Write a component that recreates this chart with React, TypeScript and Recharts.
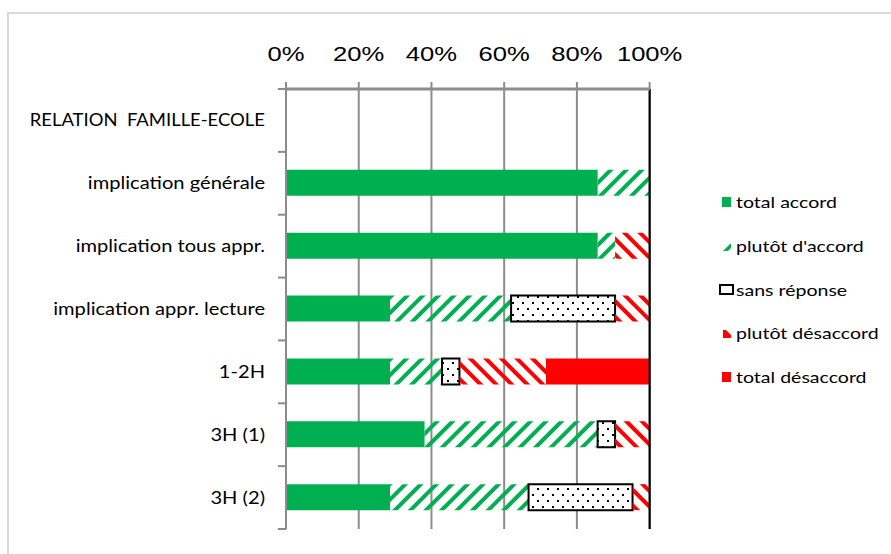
import { BarChart, Bar, XAxis, YAxis, CartesianGrid, ReferenceLine } from 'recharts'

const categories = [
  'RELATION  FAMILLE-ECOLE',
  'implication générale',
  'implication tous appr.',
  'implication appr. lecture',
  '1-2H',
  '3H (1)',
  '3H (2)',
]
const totalAccord = [0, 85.7, 85.7, 28.6, 28.6, 38.1, 28.6]
const plutotAccord = [0, 14.3, 4.8, 33.3, 14.3, 47.6, 38.1]
const sansReponse = [0, 0, 0, 28.6, 4.8, 4.8, 28.6]
const plutotDesaccord = [0, 0, 9.5, 9.5, 23.8, 9.5, 4.8]
const totalDesaccord = [0, 0, 0, 0, 28.6, 0, 0]
const xTicks = [0, 20, 40, 60, 80, 100]

const data = categories.map((name, i) => ({
  name,
  totalAccord: totalAccord[i],
  plutotAccord: plutotAccord[i],
  sansReponse: sansReponse[i],
  plutotDesaccord: plutotDesaccord[i],
  totalDesaccord: totalDesaccord[i],
}))

const GREEN = '#00b050'
const RED = '#ff0000'
const GRID = '#8c8c8c'

const W = 891
const H = 554
const TOP = 89
const BOTTOM = 529
const LEFT = 286
const RIGHT = 650
const BAND = (BOTTOM - TOP) / categories.length
// the reference is stretched sideways, so text is widened a little
const STRETCH = 1.22

const XTick = (props: any) => {
  const { x, payload } = props
  return (
    <text
      transform={`translate(${x},61) scale(${STRETCH},1)`}
      textAnchor="middle"
      fontFamily="Liberation Sans, Arial, sans-serif"
      fontSize={21}
      fill="#000"
    >
      {payload.value}%
    </text>
  )
}

const YTick = (props: any) => {
  const { y, payload, index } = props
  const top = y - BAND / 2
  const label = String(payload.value)
  // Lato capitals run wider than the original font
  const sx = label === label.toUpperCase() && /[A-Z]{3}/.test(label) ? 1.12 : STRETCH
  return (
    <g>
      <line x1={LEFT - 8} x2={LEFT} y1={top} y2={top} stroke={GRID} strokeWidth={2} />
      {index === categories.length - 1 && (
        <line x1={LEFT - 8} x2={LEFT} y1={top + BAND} y2={top + BAND} stroke={GRID} strokeWidth={2} />
      )}
      <text
        transform={`translate(265,${y + 6}) scale(${sx},1)`}
        textAnchor="end"
        fontFamily="Lato, sans-serif"
        fontSize={16.5}
        fill="#000"
        style={{ whiteSpace: 'pre' }}
      >
        {label}
      </text>
    </g>
  )
}

const legendItems = [
  { key: 'total accord', icon: 'solid-green' },
  { key: "plutôt d'accord", icon: 'stripe-green' },
  { key: 'sans réponse', icon: 'box' },
  { key: 'plutôt désaccord', icon: 'stripe-red' },
  { key: 'total désaccord', icon: 'solid-red' },
]

const LegendIcon = ({ icon }: { icon: string }) => (
  <svg width={15} height={12} style={{ marginRight: 2 }}>
    {icon === 'solid-green' && <rect x={3} y={1} width={9} height={10} fill={GREEN} />}
    {icon === 'solid-red' && <rect x={3} y={1} width={9} height={10} fill={RED} />}
    {icon === 'stripe-green' && <polygon points="4,11 11,4 12,4 12,8 9,11" fill={GREEN} />}
    {icon === 'stripe-red' && <polygon points="4,3 7,3 12,8 12,11 4,11" fill={RED} />}
    {icon === 'box' && <rect x={1} y={2} width={13} height={9} fill="#fff" stroke="#000" strokeWidth={2} />}
  </svg>
)

const LegendBox = () => (
  <div
    style={{
      position: 'absolute',
      left: 719,
      top: 180,
      fontFamily: 'Lato, sans-serif',
      fontSize: 16,
      color: '#000',
    }}
  >
    {legendItems.map(item => (
      <div key={item.key} style={{ display: 'flex', alignItems: 'center', height: 43.7 }}>
        <LegendIcon icon={item.icon} />
        <span style={{ display: 'inline-block', transform: `scaleX(${STRETCH})`, transformOrigin: 'left center', whiteSpace: 'nowrap' }}>
          {item.key}
        </span>
      </div>
    ))}
  </div>
)

export default function App() {
  return (
    <div style={{ position: 'relative', width: W, height: H, background: '#fff', overflow: 'hidden' }}>
      <style>{'body{margin:0}'}</style>
      <div
        style={{
          position: 'absolute',
          left: 7,
          top: 12,
          width: W,
          height: H,
          borderTop: '2px solid #d9d9d9',
          borderLeft: '2px solid #d9d9d9',
        }}
      />
      <div style={{ position: 'absolute', left: 0, top: 0 }}>
        <BarChart
          width={W}
          height={H}
          data={data}
          layout="vertical"
          margin={{ top: 0, right: W - RIGHT, bottom: H - BOTTOM, left: 0 }}
        >
          <defs>
            <pattern id="stripeGreen" patternUnits="userSpaceOnUse" width={11} height={11} patternTransform="rotate(45)">
              <rect x={0} y={0} width={4} height={11} fill={GREEN} />
            </pattern>
            <pattern id="stripeRed" patternUnits="userSpaceOnUse" width={11} height={11} patternTransform="rotate(-45)">
              <rect x={0} y={0} width={4} height={11} fill={RED} />
            </pattern>
            <pattern id="dots" patternUnits="userSpaceOnUse" width={10} height={12}>
              <rect x={0} y={0} width={10} height={12} fill="#fff" />
              <rect x={2} y={2} width={2} height={2} fill="#000" />
              <rect x={7} y={8} width={2} height={2} fill="#000" />
            </pattern>
          </defs>
          <CartesianGrid horizontal={false} stroke={GRID} strokeWidth={2} />
          <XAxis
            type="number"
            orientation="top"
            domain={[0, 100]}
            ticks={xTicks}
            height={TOP}
            tick={<XTick />}
            tickSize={7}
            tickLine={{ stroke: GRID, strokeWidth: 2 }}
            axisLine={{ stroke: GRID, strokeWidth: 3 }}
            interval={0}
          />
          <XAxis
            xAxisId="bottom"
            type="number"
            orientation="bottom"
            domain={[0, 100]}
            height={0}
            tick={false}
            tickLine={false}
            axisLine={{ stroke: '#000', strokeWidth: 2 }}
          />
          <YAxis
            type="category"
            dataKey="name"
            width={LEFT}
            tick={<YTick />}
            tickLine={false}
            axisLine={{ stroke: GRID, strokeWidth: 2 }}
            interval={0}
          />
          <ReferenceLine x={100} stroke="#000" strokeWidth={2} />
          <Bar dataKey="totalAccord" stackId="a" fill={GREEN} barSize={26} isAnimationActive={false} />
          <Bar dataKey="plutotAccord" stackId="a" fill="url(#stripeGreen)" barSize={26} isAnimationActive={false} />
          <Bar dataKey="sansReponse" stackId="a" fill="url(#dots)" stroke="#000" strokeWidth={2} barSize={26} isAnimationActive={false} />
          <Bar dataKey="plutotDesaccord" stackId="a" fill="url(#stripeRed)" barSize={26} isAnimationActive={false} />
          <Bar dataKey="totalDesaccord" stackId="a" fill={RED} barSize={26} isAnimationActive={false} />
        </BarChart>
      </div>
      <LegendBox />
    </div>
  )
}
